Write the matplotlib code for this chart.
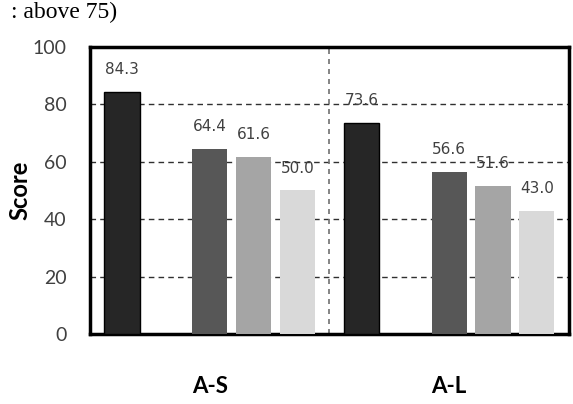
import numpy as np
import matplotlib.pyplot as plt

groups = ["A-S", "A-L"]
# series 2 slot is empty in the original chart
series_vals = [
    [84.3, 73.6],
    [64.4, 56.6],
    [61.6, 51.6],
    [50.0, 43.0],
]
series_slots = [-2, 0, 1, 2]
colors = ["#262626", "#575757", "#a5a5a5", "#d9d9d9"]
yticks = [0, 20, 40, 60, 80, 100]

fig = plt.figure(figsize=(5.73, 4.04), dpi=100)
ax = fig.add_axes([0.157, 0.173, 0.836, 0.711])

centers = np.array([0.0, 5.45])
w = 0.8
for vals, slot, c in zip(series_vals, series_slots, colors):
    xs = centers + slot
    ec = "black" if c == "#262626" else "none"
    ax.bar(xs, vals, width=w, color=c, edgecolor=ec, linewidth=1.0, zorder=3)
    for x, v in zip(xs, vals):
        ax.annotate(f"{v:.1f}", (x, v), xytext=(0, 16), textcoords="offset points",
                    ha="center", va="center", fontsize=11, color="#404040",
                    family="DejaVu Sans", zorder=4)

ax.set_xlim(-2.73, 8.18)
ax.set_ylim(0, 100)
ax.set_yticks(yticks)
ax.set_yticklabels([str(t) for t in yticks], fontsize=14, color="#404040", family="Lato")
ax.set_xticks(centers)
ax.set_xticklabels(groups, fontsize=16, fontweight="bold", family="Lato")
ax.tick_params(axis="both", length=0)
ax.tick_params(axis="y", pad=17)
ax.tick_params(axis="x", pad=30)
ax.set_ylabel("Score", fontsize=17, fontweight="bold", family="Lato", labelpad=1)

for y in [20, 40, 60, 80]:
    ax.axhline(y, color="#303030", linestyle=(0, (4, 3)), linewidth=1.0, zorder=1)
ax.axvline(centers.mean(), color="#707070", linestyle=(0, (3, 3)), linewidth=1.2, zorder=1)

for s in ax.spines.values():
    s.set_linewidth(2.5)
    s.set_color("black")

fig.text(0.02, 0.955, ": above 75)", fontsize=17, family="Liberation Serif",
         va="baseline", ha="left")

fig.savefig("out.png", dpi=100)
